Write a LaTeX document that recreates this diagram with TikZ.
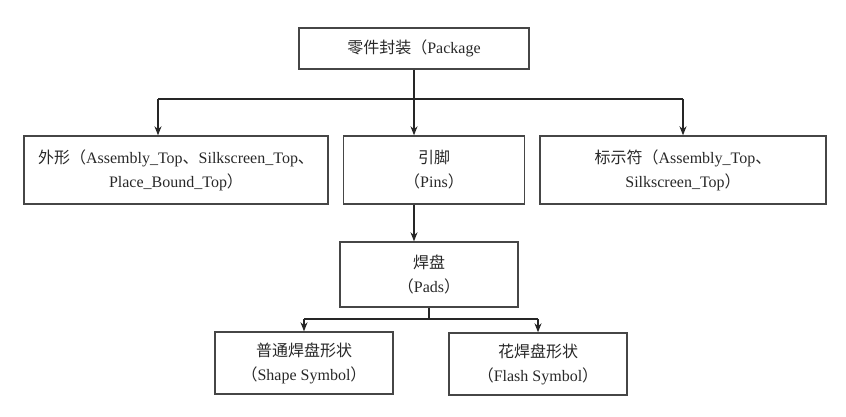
\documentclass[tikz,border=0pt]{standalone}
\usepackage{fontspec}
\setmainfont{Liberation Serif}
\newfontfamily\cjkfont{Noto Sans CJK SC}
\newcommand{\zh}[1]{{\cjkfont #1}}
\usetikzlibrary{arrows.meta}
\definecolor{txt}{RGB}{40,40,40}
\definecolor{ln}{RGB}{70,70,70}
\begin{document}
\begin{tikzpicture}[x=1pt,y=-1pt,
  box/.style={draw=ln,line width=1.4pt,rectangle,inner sep=0pt,align=center,
    text=txt,font=\fontsize{16}{24}\selectfont},
  conn/.style={draw=black!85,line width=1.2pt},
  arr/.style={conn,-{Stealth[length=9pt,width=7pt]}}]
\useasboundingbox (0,0) rectangle (846,417);
\node[box,minimum width=230pt,minimum height=41pt] (pkg) at (414,48.5) {\zh{零件封装（}Package};
\node[box,minimum width=304pt,minimum height=68pt] (left) at (176,170) {\zh{外形（}Assembly\_Top\zh{、}Silkscreen\_Top\zh{、}\\Place\_Bound\_Top\zh{）}};
\node[box,minimum width=181pt,minimum height=68pt] (mid) at (434,170) {\zh{引脚}\\\zh{（}Pins\zh{）}};
\node[box,minimum width=286pt,minimum height=68pt] (right) at (683,170) {\zh{标示符（}Assembly\_Top\zh{、}\\Silkscreen\_Top\zh{）}};
\node[box,minimum width=178pt,minimum height=65pt] (pads) at (429,274.5) {\zh{焊盘}\\\zh{（}Pads\zh{）}};
\node[box,minimum width=178pt,minimum height=62pt] (bl) at (304,363) {\zh{普通焊盘形状}\\\zh{（}Shape Symbol\zh{）}};
\node[box,minimum width=178pt,minimum height=62pt] (br) at (538,364) {\zh{花焊盘形状}\\\zh{（}Flash Symbol\zh{）}};
\coordinate (aL) at (158,99);
\coordinate (aR) at (683,99);
\coordinate (hb) at (0,319);
\draw[conn] (pkg.south) -- (pkg.south |- aL);
\draw[conn] (aL) -- (aR);
\draw[arr] (aL) -- (aL |- left.north);
\draw[arr] (pkg.south |- aL) -- (pkg.south |- mid.north);
\draw[arr] (aR) -- (aR |- right.north);
\draw[arr] (pkg.south |- mid.south) -- (pkg.south |- pads.north);
\draw[conn] (pads.south) -- (pads.south |- hb);
\draw[conn] (bl.north |- hb) -- (br.north |- hb);
\draw[arr] (bl.north |- hb) -- (bl.north);
\draw[arr] (br.north |- hb) -- (br.north);
\end{tikzpicture}
\end{document}
